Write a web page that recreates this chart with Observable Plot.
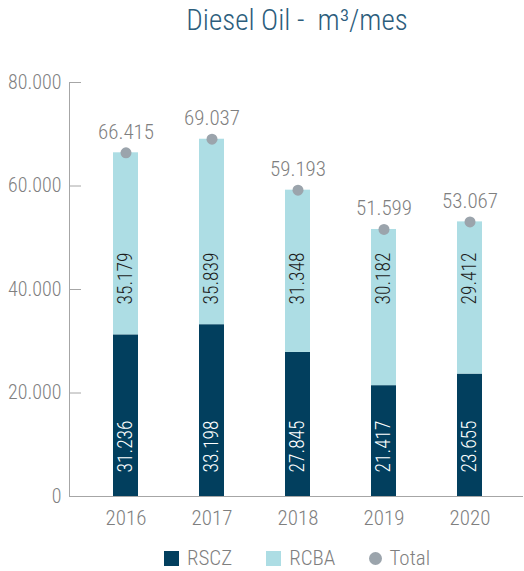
<!DOCTYPE html>
<html>
<head>
<meta charset="utf-8">
<script src="https://cdn.jsdelivr.net/npm/d3@7"></script>
<script src="https://cdn.jsdelivr.net/npm/@observablehq/plot@0.6"></script>
<style>
  html, body { margin: 0; padding: 0; background: #fff; }
  body { width: 524px; height: 571px; overflow: hidden;
         font-family: "Roboto Condensed", "Roboto", sans-serif; font-weight: 300; }
  #title { height: 40px; line-height: 40px; padding-left: 70px; text-align: center;
           font-size: 29px; color: #2c5d7c; font-weight: 300; }
  #legend { height: 26px; display: flex; justify-content: center; align-items: center;
            padding-left: 70px; font-size: 21px; color: #7f7f7f; }
  .item { display: flex; align-items: center; margin: 0 17px; }
  .sw { width: 15px; height: 15px; margin-right: 8px; }
  .dot { width: 13px; height: 13px; border-radius: 50%; margin-right: 7px; }
  svg text { font-weight: 300; }
</style>
</head>
<body>
<div id="title">Diesel Oil -&nbsp; m³/mes</div>
<div id="chart"></div>
<div id="legend"></div>
<script>
const years = ["2016", "2017", "2018", "2019", "2020"];
const rscz = [31236, 33198, 27845, 21417, 23655];
const rcba = [35179, 35839, 31348, 30182, 29412];
const total = [66415, 69037, 59193, 51599, 53067];
const yTicks = [0, 20000, 40000, 60000, 80000];
const seriesNames = ["RSCZ", "RCBA"];
const seriesColors = ["#023f5e", "#addde4"];
const totalColor = "#9ba4ac";
const textGrey = "#7f7f7f";

const locale = d3.formatLocale({decimal: ",", thousands: ".", grouping: [3], currency: ["", ""]});
const fmt = locale.format(",d");

const rows = [];
years.forEach((y, i) => rows.push({year: y, series: "RSCZ", value: rscz[i]}));
years.forEach((y, i) => rows.push({year: y, series: "RCBA", value: rcba[i]}));
const rsczRows = years.map((y, i) => ({year: y, value: rscz[i]}));
const rcbaRows = years.map((y, i) => ({year: y, value: rcba[i]}));
const totalRows = years.map((y, i) => ({year: y, value: total[i]}));

const chart = Plot.plot({
  width: 524,
  height: 505,
  marginTop: 42,
  marginBottom: 49,
  marginLeft: 69,
  marginRight: 1,
  style: {fontFamily: "'Roboto Condensed', Roboto, sans-serif", background: "#fff", overflow: "visible"},
  x: {domain: years, paddingInner: 0.71, paddingOuter: 0.355, insetLeft: 11, insetRight: 9},
  y: {domain: [0, 80000]},
  color: {domain: seriesNames, range: seriesColors},
  marks: [
    Plot.barY(rows, {x: "year", y: "value", fill: "series"}),
    Plot.ruleY([0], {stroke: "#a6a6a6"}),
    Plot.frame({anchor: "left", stroke: "#a6a6a6"}),
    Plot.axisY({ticks: yTicks, tickSize: 0, tickPadding: 8, tickFormat: fmt, fontSize: 20, fill: textGrey, label: null}),
    Plot.axisY({ticks: yTicks, tickSize: 12, dx: 12, text: null, label: null, stroke: "#a6a6a6"}),
    Plot.axisX({tickSize: 0, tickPadding: 14, label: null, fontSize: 21, fill: textGrey}),
    Plot.text(rsczRows, {x: "year", y: 0, text: d => fmt(d.value), rotate: -90, textAnchor: "start",
      dy: -24, fill: "white", fontSize: 19.5}),
    Plot.text(rcbaRows, {x: "year", y: 0, text: d => fmt(d.value), rotate: -90, textAnchor: "middle",
      dy: -218, fill: "#1d1d1d", fontSize: 19.5}),
    Plot.dot(totalRows, {x: "year", y: "value", r: 5.5, fill: totalColor}),
    Plot.text(totalRows, {x: "year", y: "value", text: d => fmt(d.value), lineAnchor: "bottom",
      dy: -14, fill: textGrey, fontSize: 21})
  ]
});
document.getElementById("chart").appendChild(chart);

const legend = document.getElementById("legend");
seriesNames.forEach((n, i) => {
  const it = document.createElement("div"); it.className = "item";
  it.innerHTML = `<span class="sw" style="background:${seriesColors[i]}"></span>${n}`;
  legend.appendChild(it);
});
const it = document.createElement("div"); it.className = "item";
it.innerHTML = `<span class="dot" style="background:${totalColor}"></span>Total`;
legend.appendChild(it);
</script>
</body>
</html>
